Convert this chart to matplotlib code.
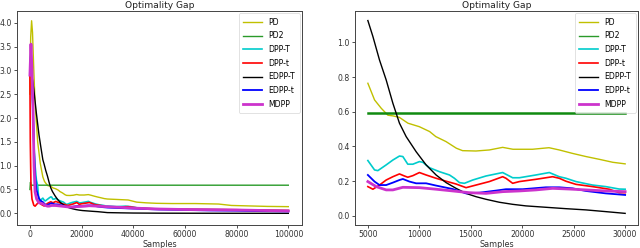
import numpy as np
import matplotlib
matplotlib.use("Agg")
import matplotlib.pyplot as plt

# readings of the optimality gap for each algorithm (samples, gap)
pd_x = [0, 300, 650, 1000, 1500, 2000, 3000, 4000, 5000, 5650, 6300, 6950, 7450, 8050, 8900,
        10000, 11000, 11600, 12600, 13600, 14200, 15500, 16800, 18100, 19100, 21000, 22600,
        23600, 24900, 26200, 27500, 28800, 30000, 34000, 38000, 41300, 45000, 49000, 55000,
        64000, 73000, 78000, 85000, 92000, 100000]
pd_y = [2.5, 3.7, 4.04, 3.8, 3.0, 2.3, 1.5, 1.05, 0.764, 0.668, 0.62, 0.58, 0.576, 0.568, 0.534,
        0.514, 0.486, 0.457, 0.428, 0.39, 0.376, 0.374, 0.38, 0.395, 0.384, 0.384, 0.393,
        0.38, 0.36, 0.342, 0.326, 0.309, 0.30, 0.29, 0.28, 0.235, 0.22, 0.21, 0.205,
        0.205, 0.195, 0.165, 0.155, 0.145, 0.14]

pd2_x = [0, 200, 400, 100000]
pd2_y = [0.5, 0.65, 0.59, 0.59]

dppT_x = [0, 400, 1000, 1500, 2000, 2500, 3000, 3400, 3800, 4200, 4600, 5000, 5650, 5970, 6780,
          7430, 8070, 8400, 8880, 9370, 10010, 10340, 10980, 11950, 12930, 13410, 13900, 14380,
          15190, 16470, 17770, 18100, 19070, 19720, 21330, 22630, 23600, 24250, 25220, 26830,
          28120, 29420, 30000, 33500, 37000, 39000, 42000, 47000, 55000, 65000, 75000, 85000,
          100000]
dppT_y = [2.9, 3.4, 2.4, 1.5, 1.0, 0.7, 0.58, 0.3, 0.25, 0.28, 0.3, 0.319, 0.265, 0.261, 0.294,
          0.322, 0.345, 0.342, 0.298, 0.298, 0.313, 0.309, 0.278, 0.255, 0.236, 0.217, 0.192, 0.188,
          0.207, 0.23, 0.246, 0.25, 0.22, 0.22, 0.236, 0.25, 0.226, 0.217, 0.198, 0.178,
          0.169, 0.155, 0.154, 0.14, 0.15, 0.14, 0.11, 0.095, 0.085, 0.08, 0.075, 0.065,
          0.055]

dppt_x = [0, 150, 400, 800, 1500, 2000, 2800, 3600, 4300, 5000, 5490, 6130, 6780, 7430, 8070,
          8560, 8880, 9370, 10010, 10660, 11630, 12600, 13570, 14540, 15510, 16800, 18100, 18420,
          19070, 19720, 21330, 22950, 23600, 24250, 25220, 26830, 28450, 29420, 30000, 34000,
          38000, 42000, 50000, 60000, 70000, 80000, 90000, 100000]
dppt_y = [2.9, 1.5, 0.6, 0.3, 0.17, 0.15, 0.2, 0.24, 0.19, 0.169, 0.154, 0.178, 0.207, 0.226, 0.242,
          0.23, 0.223, 0.232, 0.25, 0.236, 0.217, 0.2, 0.184, 0.163, 0.178, 0.198, 0.226, 0.217,
          0.188, 0.198, 0.211, 0.226, 0.217, 0.2, 0.182, 0.169, 0.154, 0.134, 0.134, 0.13,
          0.14, 0.11, 0.09, 0.085, 0.08, 0.075, 0.065, 0.06]

edppT_x = [0, 700, 1500, 2500, 3500, 4200, 5000, 5490, 6130, 6780, 7430, 8070, 8720, 9690, 10660,
           11630, 12600, 13570, 14540, 15510, 16480, 17770, 19070, 20360, 22300, 24250, 26180,
           28120, 30000, 35000, 40000, 50000, 60000, 80000, 100000]
edppT_y = [2.92, 2.92, 2.6, 2.1, 1.65, 1.4, 1.125, 1.033, 0.898, 0.783, 0.649, 0.534, 0.457, 0.37, 0.294,
           0.236, 0.192, 0.159, 0.13, 0.111, 0.096, 0.079, 0.067, 0.058, 0.05, 0.042, 0.035,
           0.025, 0.015, 0.01, 0.006, 0.003, 0.002, 0.001, 0.0]

edppt_x = [0, 400, 800, 1200, 1600, 2000, 2500, 3000, 3500, 4000, 5000, 5650, 6130, 6780, 7430,
           8070, 8400, 9040, 9690, 10660, 11630, 13250, 14540, 15830, 17450, 18420, 20040, 22300,
           23600, 24900, 26180, 28120, 30000, 35000, 40000, 50000, 60000, 70000, 80000, 90000,
           100000]
edppt_y = [2.9, 3.4, 2.9, 2.2, 1.3, 0.8, 0.5, 0.4, 0.32, 0.27, 0.236, 0.198, 0.178, 0.178, 0.192,
           0.207, 0.213, 0.198, 0.188, 0.188, 0.175, 0.155, 0.13, 0.134, 0.146, 0.154, 0.154, 0.165,
           0.165, 0.159, 0.144, 0.13, 0.121, 0.11, 0.1, 0.08, 0.07, 0.06, 0.055, 0.045,
           0.04]

mdpp_x = [0, 400, 800, 1200, 1600, 2000, 2600, 3500, 4200, 5000, 5810, 6780, 7430, 8400, 10010,
          11630, 13250, 14860, 16480, 18100, 19720, 21330, 22950, 24570, 26180, 28120, 30000,
          40000, 50000, 60000, 70000, 80000, 90000, 100000]
mdpp_y = [2.9, 3.55, 3.0, 2.2, 1.0, 0.45, 0.3, 0.22, 0.21, 0.198, 0.169, 0.15, 0.15, 0.165, 0.163,
          0.154, 0.144, 0.134, 0.13, 0.14, 0.144, 0.15, 0.159, 0.155, 0.15, 0.144, 0.14,
          0.11, 0.09, 0.08, 0.075, 0.07, 0.06, 0.05]

labels = ["PD", "PD2", "DPP-T", "DPP-t", "EDPP-T", "EDPP-t", "MDPP"]
series = [(pd_x, pd_y), (pd2_x, pd2_y), (dppT_x, dppT_y), (dppt_x, dppt_y),
          (edppT_x, edppT_y), (edppt_x, edppt_y), (mdpp_x, mdpp_y)]
colors = ["#c0c000", "#2a9a2a", "#00cccc", "#ff0000", "#000000", "#0000ff", "#cc33cc"]
widths = [1.0, 1.0, 1.2, 1.2, 1.0, 1.3, 2.0]

zoom_lo, zoom_hi = 5000, 30000


def clip(x, y, lo, hi):
    # keep only the part between lo and hi, ends taken from the readings
    x = np.array(x, dtype=float)
    y = np.array(y, dtype=float)
    inner = (x > lo) & (x < hi)
    xs = np.concatenate([[lo], x[inner], [hi]])
    ys = np.interp(xs, x, y)
    return xs, ys


def style_axes(ax):
    for s in ax.spines.values():
        s.set_color("#444444")
        s.set_linewidth(0.7)
    ax.tick_params(labelsize=5.6, length=2.2, width=0.6, pad=1.6, colors="#333333")
    ax.set_title("Optimality Gap", fontsize=6.6, pad=2.0, color="#222222")
    ax.set_xlabel("Samples", fontsize=5.8, labelpad=0.3, color="#333333")
    leg = ax.legend(loc="upper right", fontsize=5.6, handlelength=2.4, borderpad=0.55,
                    labelspacing=0.6, handletextpad=0.9, borderaxespad=0.3)
    leg.get_frame().set_linewidth(0.5)


fig = plt.figure(figsize=(6.4, 2.48), dpi=100)

ax1 = fig.add_axes([17 / 640, 23 / 248, 285 / 640, 214 / 248])
for (x, y), lab, c, w in zip(series, labels, colors, widths):
    ax1.plot(x, y, color=c, lw=w, label=lab)
ax1.set_xlim(-5000, 105300)
ax1.set_ylim(-0.245, 4.245)
ax1.set_xticks([0, 20000, 40000, 60000, 80000, 100000])
ax1.set_yticks(np.arange(0, 4.01, 0.5))
style_axes(ax1)

ax2 = fig.add_axes([355 / 640, 23 / 248, 283 / 640, 214 / 248])
for (x, y), lab, c, w in zip(series, labels, colors, widths):
    xs, ys = clip(x, y, zoom_lo, zoom_hi)
    if lab == "PD2":
        ax2.plot(xs, ys, color="#108a10", lw=1.8)
        ax2.plot([], [], color=c, lw=w, label=lab)
    else:
        ax2.plot(xs, ys, color=c, lw=w, label=lab)
ax2.set_xlim(3750, 31250)
ax2.set_ylim(-0.052, 1.18)
ax2.set_xticks([5000, 10000, 15000, 20000, 25000, 30000])
ax2.set_yticks(np.arange(0, 1.01, 0.2))
style_axes(ax2)

fig.savefig("out.png", dpi=100)
